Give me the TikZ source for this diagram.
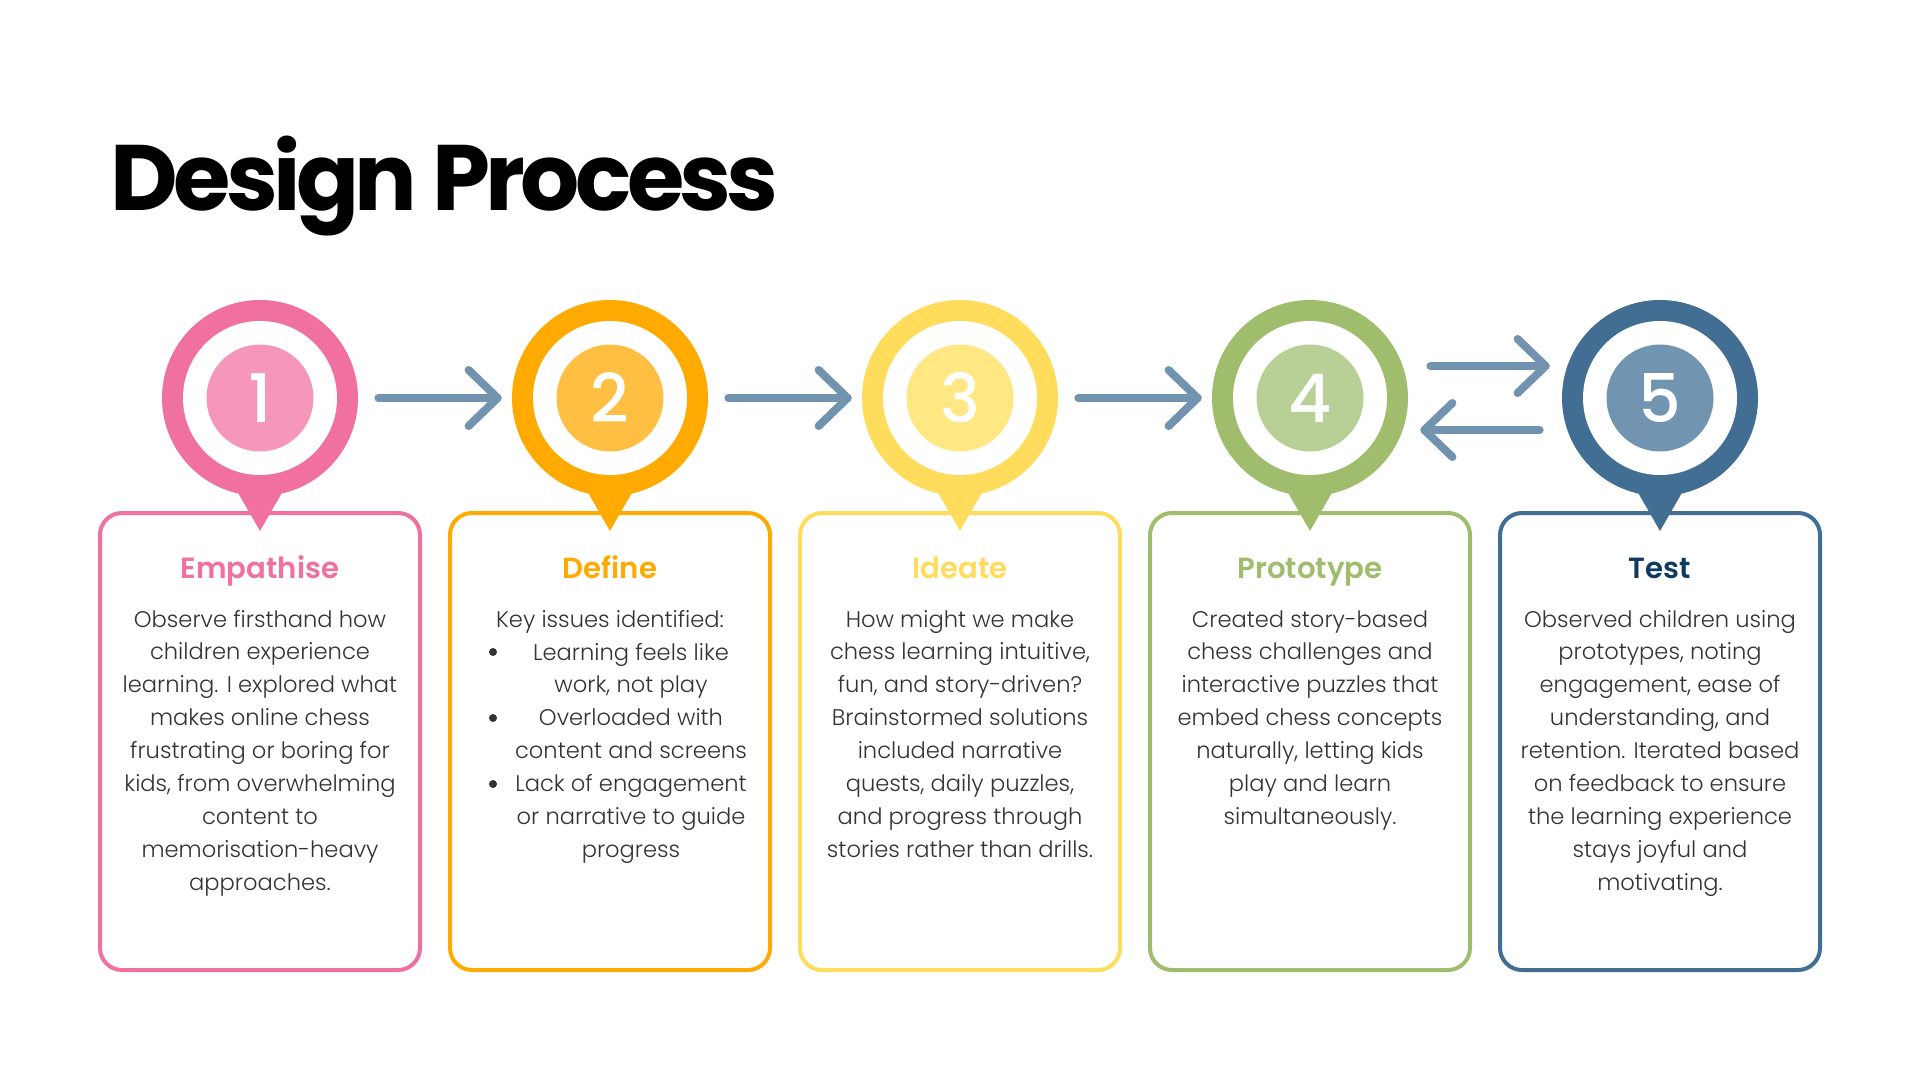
\documentclass[tikz,border=0pt]{standalone}
\usepackage{fontspec}
\setmainfont{Poppins}
\IfFontExistsTF{Poppins Light}{\newfontfamily\bodyf{Poppins Light}}{\newfontfamily\bodyf{Poppins}}
\IfFontExistsTF{Poppins SemiBold}{\newfontfamily\headf{Poppins SemiBold}}{\newfontfamily\headf{Poppins}[UprightFont=*-Bold]}
\IfFontExistsTF{Poppins Medium}{\newfontfamily\numf{Poppins Medium}}{\newfontfamily\numf{Poppins}}
\newfontfamily\titlef{Poppins}[UprightFont=*-Bold,LetterSpace=-5]
\definecolor{pinkO}{HTML}{F0719F}
\definecolor{pinkI}{HTML}{F596BA}
\definecolor{orO}{HTML}{FFAA00}
\definecolor{orI}{HTML}{FFBF42}
\definecolor{yeO}{HTML}{FFDC5C}
\definecolor{yeI}{HTML}{FFE783}
\definecolor{grO}{HTML}{A0BD6D}
\definecolor{grI}{HTML}{B8CF95}
\definecolor{blO}{HTML}{436E93}
\definecolor{blI}{HTML}{7194B1}
\definecolor{arrowc}{HTML}{7193B0}
\definecolor{testc}{HTML}{0F3B5E}
\definecolor{bodyc}{HTML}{333333}
\newcommand\mypin[5]{%
  \fill[#3] (#2-35,470) -- (#2+35,470) -- (#2,531) -- cycle;
  \node[circle, fill=#3, minimum size=98pt, inner sep=0pt] (#1) at (#2,398) {};
  \fill[white] (#2,398) circle[radius=38.5pt];
  \fill[#4] (#2,398) circle[radius=26.75pt];
  \node[num] (#1n) at (#2,398) {#5};
}
\newcommand\mybox[3]{%
  \draw[boxst, draw=#3] (#2-160,513) rectangle (#2+160,970);
  \coordinate (#1) at (#2,513);
}
\begin{document}
\begin{tikzpicture}[x=0.5pt,y=-0.5pt,
  boxst/.style={line width=2pt, rounded corners=11pt, fill=white},
  arr/.style={draw=arrowc, line width=4pt, line cap=round, line join=round},
  body/.style={anchor=base, inner sep=0pt, text=bodyc, font=\bodyf\fontsize{11.3pt}{16.45pt}\selectfont},
  head/.style={anchor=base, inner sep=0pt, font=\headf\fontsize{14.6pt}{18pt}\selectfont},
  num/.style={text=white, font=\numf\fontsize{33.5pt}{40pt}\selectfont, inner sep=0pt},
  bul/.style={circle, fill=bodyc, minimum size=4pt, inner sep=0pt}
]
\useasboundingbox[fill=white] (0,0) rectangle (1920,1080);

\node[anchor=base west, inner sep=0pt, font=\titlef\fontsize{46.5pt}{54pt}\selectfont] (title) at (110,211) {Design Process};

% boxes
\mybox{k1}{260}{pinkO}
\mybox{k2}{610}{orO}
\mybox{k3}{960}{yeO}
\mybox{k4}{1310}{grO}
\mybox{k5}{1660}{blO}

% pins
\mypin{c1}{260}{pinkO}{pinkI}{1}
\mypin{c2}{610}{orO}{orI}{2}
\mypin{c3}{960}{yeO}{yeI}{3}
\mypin{c4}{1310}{grO}{grI}{4}
\mypin{c5}{1660}{blO}{blI}{5}

% arrows
\foreach \a/\b in {c1/c2, c2/c3, c3/c4}{
  \coordinate (\a s) at ([xshift=10pt]\a.east);
  \coordinate (\a e) at ([xshift=-7pt]\b.west);
  \draw[arr] (\a s) -- (\a e);
  \draw[arr] ([xshift=-14.5pt,yshift=14pt]\a e) -- (\a e) -- ([xshift=-14.5pt,yshift=-14pt]\a e);
}
\coordinate (fs) at ([xshift=11pt,yshift=16pt]c4.east);
\coordinate (fe) at ([xshift=-8pt,yshift=16pt]c5.west);
\draw[arr] (fs) -- (fe);
\draw[arr] ([xshift=-14pt,yshift=13.5pt]fe) -- (fe) -- ([xshift=-14pt,yshift=-13.5pt]fe);
\coordinate (bs) at ([xshift=-11pt,yshift=-16pt]c5.west);
\coordinate (be) at ([xshift=8pt,yshift=-16pt]c4.east);
\draw[arr] (bs) -- (be);
\draw[arr] ([xshift=14pt,yshift=13.5pt]be) -- (be) -- ([xshift=14pt,yshift=-13.5pt]be);

% headings
\node[head, text=pinkO] (h1) at (260,578) {Empathise};
\node[head, text=orO] (h2) at (610,578) {Define};
\node[head, text=yeO] (h3) at (960,578) {Ideate};
\node[head, text=grO] (h4) at (1310,578) {Prototype};
\node[head, text=testc] (h5) at (1660,578) {Test};

% body texts
\node[body] (t1) at (260,627) {\parbox[t]{158pt}{\centering
Observe firsthand how\\
children experience\\
learning. I explored what\\
makes online chess\\
frustrating or boring for\\
kids, from overwhelming\\
content to\\
memorisation-heavy\\
approaches.}};

\node[body] (t2a) at (610,627) {Key issues identified:};
\node[body] (t2) at (631,660) {\parbox[t]{128pt}{\centering
Learning feels like\\
work, not play\\
Overloaded with\\
content and screens\\
Lack of engagement\\
or narrative to guide\\
progress}};
\node[bul] (b1) at (493,652) {};
\node[bul] (b2) at (493,718) {};
\node[bul] (b3) at (493,784) {};

\node[body] (t3) at (960,627) {\parbox[t]{158pt}{\centering
How might we make\\
chess learning intuitive,\\
fun, and story-driven?\\
Brainstormed solutions\\
included narrative\\
quests, daily puzzles,\\
and progress through\\
stories rather than drills.}};

\node[body] (t4) at (1310,627) {\parbox[t]{158pt}{\centering
Created story-based\\
chess challenges and\\
interactive puzzles that\\
embed chess concepts\\
naturally, letting kids\\
play and learn\\
simultaneously.}};

\node[body] (t5) at (1660,627) {\parbox[t]{158pt}{\centering
Observed children using\\
prototypes, noting\\
engagement, ease of\\
understanding, and\\
retention. Iterated based\\
on feedback to ensure\\
the learning experience\\
stays joyful and\\
motivating.}};
\end{tikzpicture}
\end{document}
